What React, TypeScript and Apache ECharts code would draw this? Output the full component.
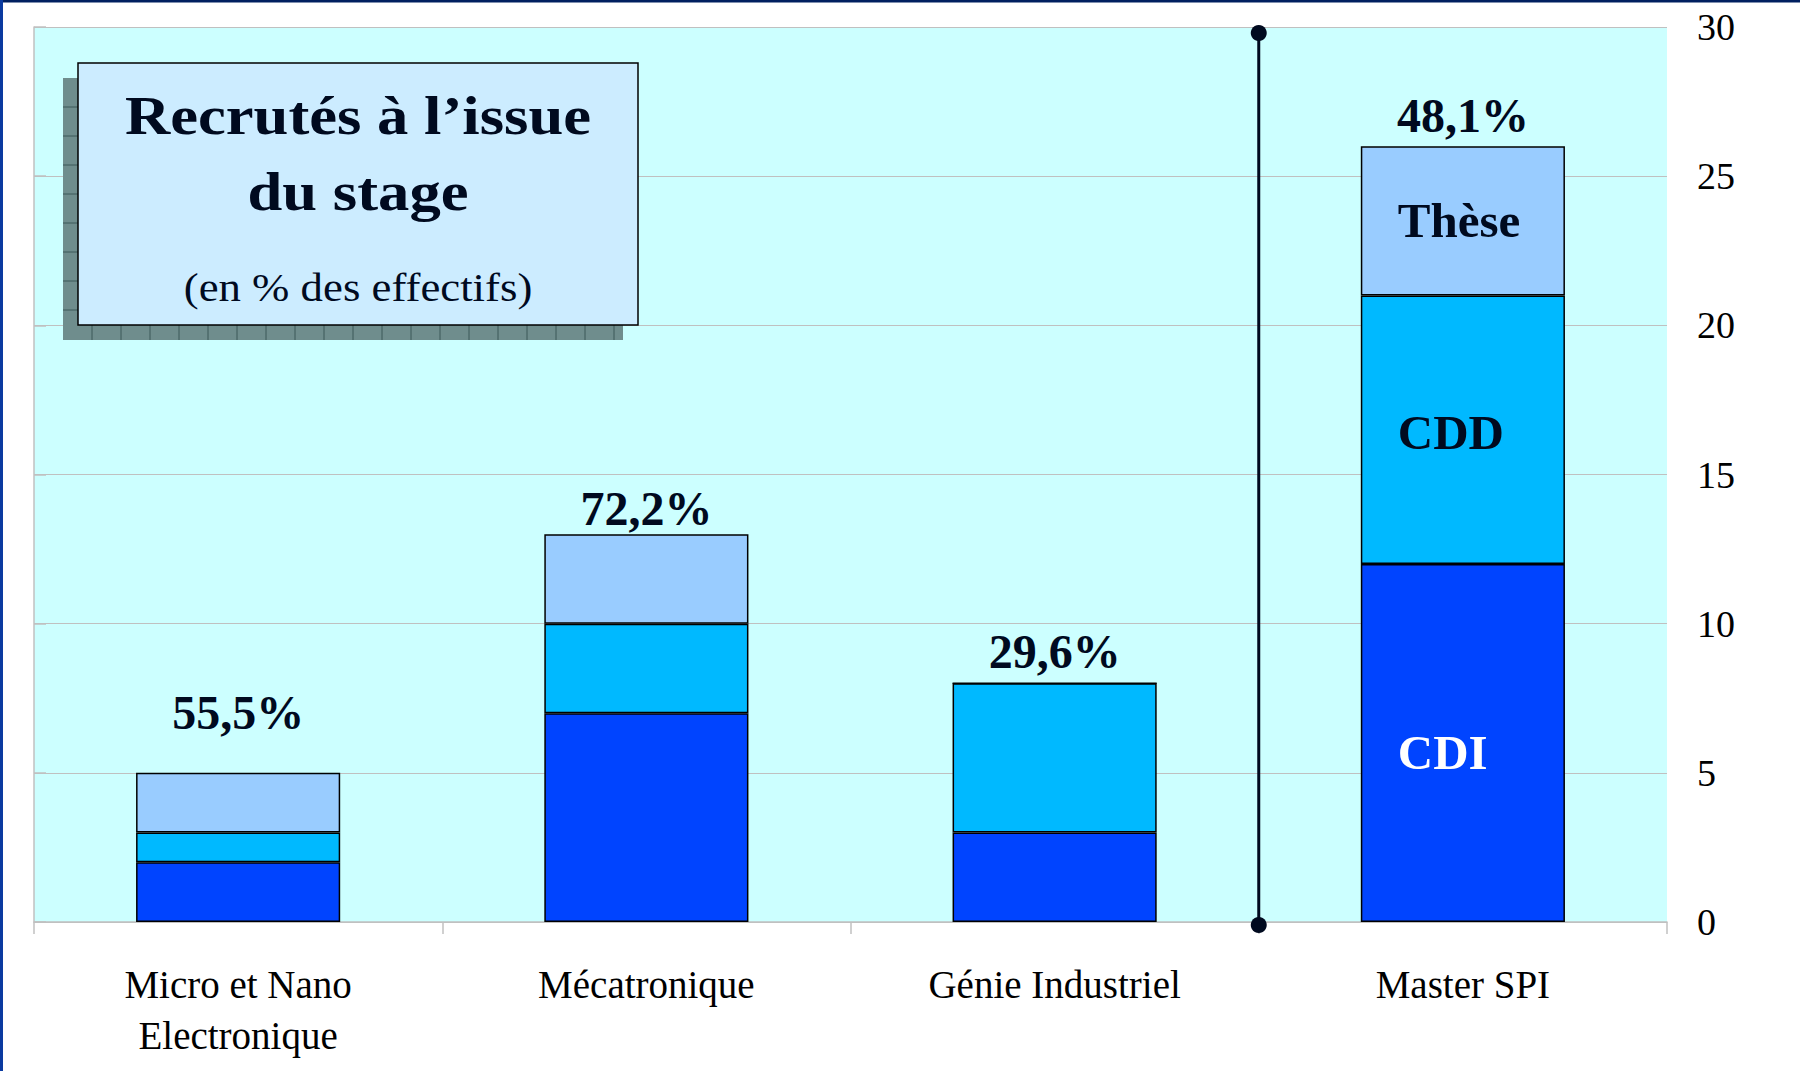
import React, { useEffect, useRef } from "react";
import * as echarts from "echarts";

const categories = ["Micro et Nano\nElectronique", "Mécatronique", "Génie Industriel", "Master SPI"];
const cdiValues = [2, 7, 3, 12];
const cddValues = [1, 3, 5, 9];
const theseValues = [2, 3, 0, 5];
const totalLabels = ["55,5%", "72,2%", "29,6%", "48,1%"];
const segmentNames = ["CDI", "CDD", "Thèse"];
const yMin = 0;
const yMax = 30;
const yInterval = 5;
const dividerPoints = [[3, 29.8], [3, -0.1]];

const SERIF = "'Liberation Serif', 'Times New Roman', serif";
const INK = "#000a1f";

export default function App() {
  const ref = useRef<HTMLDivElement>(null);

  useEffect(() => {
    if (!ref.current) return;
    const chart = echarts.init(ref.current, null, { renderer: "svg" });

    const pctDistance = [36, 2, 8, 7];
    const lastIdx = categories.length - 1;

    const segLabel = (name: string, color: string, offsetY: number) => ({
      show: true,
      position: "insideLeft",
      distance: 37,
      offset: [0, offsetY],
      fontFamily: SERIF,
      fontWeight: "bold",
      fontSize: 49,
      color,
      formatter: (p: any) => (p.dataIndex === lastIdx ? name : ""),
    });

    const barBorder = { borderColor: "#000000", borderWidth: 1.5 };

    // title box geometry (decoration)
    const bx = 78, by = 63, bw = 560, bh = 262;
    const sx = 63, sy = 78;
    const cx = bx + bw / 2;

    const shadowLines: any[] = [];
    for (let x = sx + 29; x < sx + bw; x += 29) {
      shadowLines.push({
        type: "line",
        z: 101,
        shape: { x1: x, y1: by + bh, x2: x, y2: sy + bh },
        style: { stroke: "#3d5858", lineWidth: 1 },
      });
    }
    for (let y = sy + 29; y < by + bh; y += 29) {
      shadowLines.push({
        type: "line",
        z: 101,
        shape: { x1: sx, y1: y, x2: bx, y2: y },
        style: { stroke: "#3d5858", lineWidth: 1 },
      });
    }

    const titleText = (text: string, y: number, size: number, bold: boolean, sxScale: number) => ({
      type: "text",
      z: 103,
      x: cx,
      y,
      scaleX: sxScale,
      style: {
        text,
        fontFamily: SERIF,
        fontWeight: bold ? "bold" : "normal",
        fontSize: size,
        fill: INK,
        align: "center",
        verticalAlign: "middle",
      },
    });

    const option: any = {
      animation: false,
      backgroundColor: "#ffffff",
      grid: {
        left: 34,
        right: 133,
        top: 27,
        bottom: 149,
        show: true,
        backgroundColor: "#CCFFFF",
        borderWidth: 0,
      },
      xAxis: [
        {
          type: "category",
          data: categories,
          boundaryGap: true,
          axisLine: { show: true, lineStyle: { color: "#c0c0c0", width: 1.5 } },
          axisTick: { show: true, length: 12, alignWithLabel: false, lineStyle: { color: "#c0c0c0", width: 1.5 } },
          axisLabel: {
            fontFamily: SERIF,
            fontSize: 39,
            color: "#000000",
            margin: 37,
            lineHeight: 51,
            interval: 0,
          },
          splitLine: { show: false },
        },
        {
          type: "value",
          min: 0,
          max: 4,
          show: false,
        },
      ],
      yAxis: {
        type: "value",
        position: "right",
        min: yMin,
        max: yMax,
        interval: yInterval,
        axisLine: { show: true, lineStyle: { color: "#c0c0c0", width: 1.5 } },
        axisTick: { show: true, length: 12, inside: false, lineStyle: { color: "#c0c0c0", width: 1.5 } },
        axisLabel: {
          fontFamily: SERIF,
          fontSize: 38,
          color: "#000000",
          margin: 30,
          padding: [7, 0, 0, 0],
        },
        splitLine: { show: true, lineStyle: { color: "#c0c0c0", width: 1 } },
      },
      series: [
        {
          name: segmentNames[0],
          type: "bar",
          stack: "total",
          barWidth: "50%",
          data: cdiValues,
          itemStyle: { color: "#0044FF", ...barBorder },
          label: segLabel(segmentNames[0], "#ffffff", 9),
        },
        {
          name: segmentNames[1],
          type: "bar",
          stack: "total",
          data: cddValues,
          itemStyle: { color: "#00B9FF", ...barBorder },
          label: segLabel(segmentNames[1], INK, 3),
        },
        {
          name: segmentNames[2],
          type: "bar",
          stack: "total",
          data: theseValues,
          itemStyle: { color: "#99CCFF", ...barBorder },
          label: segLabel(segmentNames[2], INK, 0),
        },
        {
          name: "total",
          type: "bar",
          stack: "total",
          data: totalLabels.map((_, i) => ({
            value: 0,
            label: { distance: pctDistance[i] },
          })),
          itemStyle: { color: "rgba(0,0,0,0)", borderWidth: 0 },
          label: {
            show: true,
            position: "top",
            fontFamily: SERIF,
            fontWeight: "bold",
            fontSize: 48,
            color: INK,
            formatter: (p: any) => totalLabels[p.dataIndex],
          },
        },
        {
          name: "divider",
          type: "line",
          xAxisIndex: 1,
          data: dividerPoints,
          clip: false,
          symbol: "circle",
          symbolSize: 16,
          showSymbol: true,
          z: 20,
          lineStyle: { color: INK, width: 3 },
          itemStyle: { color: INK },
          label: { show: false },
        },
      ],
      graphic: [
        { type: "rect", z: 100, shape: { x: 0, y: 0, width: 1800, height: 2.5 }, style: { fill: "#002060" } },
        { type: "rect", z: 100, shape: { x: 0, y: 0, width: 3, height: 1071 }, style: { fill: "#0a3aa0" } },
        { type: "rect", z: 100, shape: { x: sx, y: sy, width: bw, height: bh }, style: { fill: "#6f8d8d" } },
        ...shadowLines,
        {
          type: "rect",
          z: 102,
          shape: { x: bx, y: by, width: bw, height: bh },
          style: { fill: "#CCECFF", stroke: "#000000", lineWidth: 1.5 },
        },
        titleText("Recrutés à l’issue", 116, 54, true, 1.16),
        titleText("du stage", 192, 54, true, 1.16),
        titleText("(en % des effectifs)", 287, 40, false, 1.12),
      ],
    };

    chart.setOption(option);
    return () => chart.dispose();
  }, []);

  return (
    <div
      ref={ref}
      style={{ position: "fixed", left: 0, top: 0, width: 1800, height: 1071, background: "#ffffff" }}
    />
  );
}
